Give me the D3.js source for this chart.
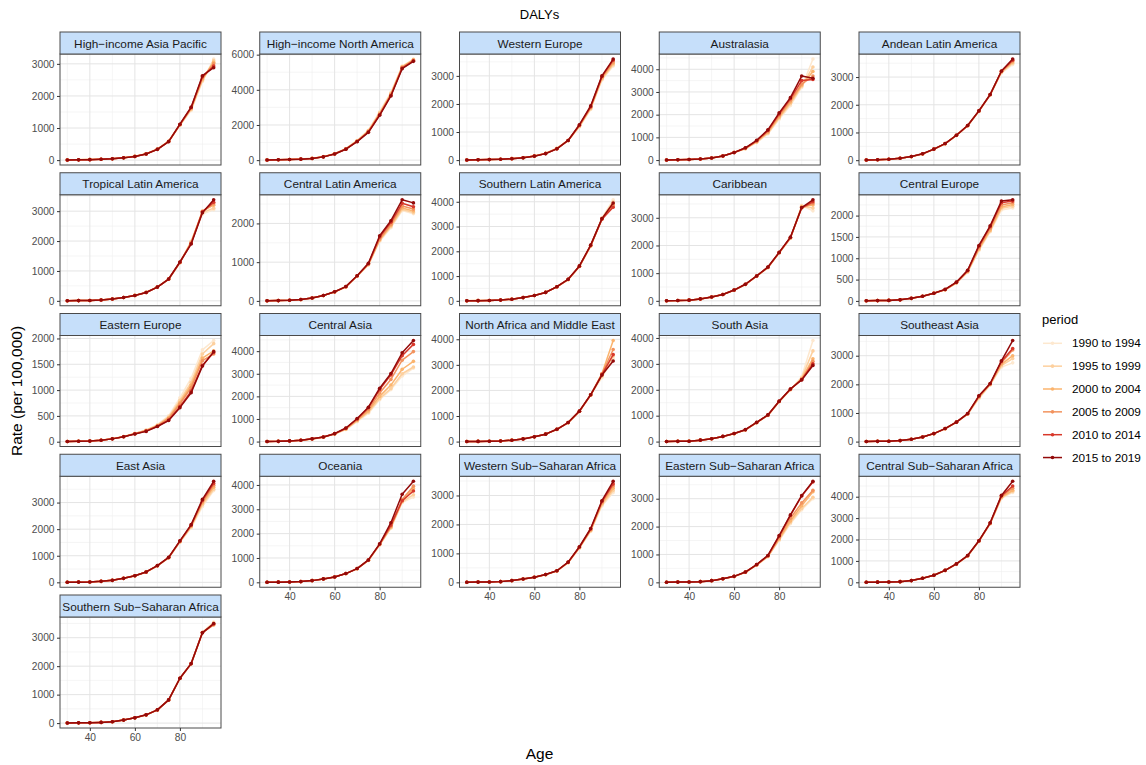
<!DOCTYPE html>
<html><head><meta charset="utf-8">
<script src="https://cdn.jsdelivr.net/npm/d3@7"></script>
<style>body{margin:0;background:#fff} text{font-family:"Liberation Sans",Arial,Helvetica,sans-serif}</style>
</head><body><svg id="c" width="1146" height="765"></svg>
<script>
const ages = [30,35,40,45,50,55,60,65,70,75,80,85,90,95];
const periods = ["1990 to 1994","1995 to 1999","2000 to 2004","2005 to 2009","2010 to 2014","2015 to 2019"];
const periodColors = ["#fde8cf","#fdd09e","#fbb46e","#f2935e","#d8382a","#930a0a"];
const regionNames = ["High−income Asia Pacific","High−income North America","Western Europe","Australasia","Andean Latin America",
  "Tropical Latin America","Central Latin America","Southern Latin America","Caribbean","Central Europe",
  "Eastern Europe","Central Asia","North Africa and Middle East","South Asia","Southeast Asia",
  "East Asia","Oceania","Western Sub−Saharan Africa","Eastern Sub−Saharan Africa","Central Sub−Saharan Africa",
  "Southern Sub−Saharan Africa"];

// each region: one row per period (1990-1994 ... 2015-2019), one value per age group
const hiAsiaPacific = [
  [6,10,17,27,45,75,120,200,345,590,1080,1550,2450,3150],
  [6,10,17,27,44,74,118,198,342,588,1090,1580,2480,3100],
  [5,9,16,26,43,73,117,196,340,585,1100,1600,2520,3050],
  [5,9,16,26,42,72,116,194,338,580,1105,1620,2560,3000],
  [5,8,15,25,41,71,115,192,336,578,1110,1640,2600,2930],
  [5,8,15,25,40,70,115,190,335,575,1120,1650,2630,2880]];
const hiNorthAmerica = [
  [12,22,40,65,105,200,370,660,1120,1700,2750,3850,5350,5750],
  [12,22,39,63,102,197,365,650,1105,1680,2700,3800,5320,5720],
  [11,21,38,61,98,194,360,640,1090,1650,2650,3750,5300,5700],
  [11,21,37,59,95,190,355,632,1075,1620,2610,3720,5270,5680],
  [10,20,36,57,92,186,352,625,1062,1600,2580,3680,5240,5650],
  [10,20,35,55,90,185,350,620,1050,1580,2550,3650,5200,5620]];
const westernEurope = [
  [6,11,20,33,55,88,150,245,420,700,1180,1800,2850,3350],
  [6,11,20,32,54,86,148,242,416,700,1200,1830,2880,3400],
  [6,10,19,31,53,84,146,238,412,700,1215,1860,2920,3450],
  [5,10,19,31,52,83,144,235,408,700,1230,1880,2950,3500],
  [5,10,18,30,51,81,142,232,404,700,1245,1900,2980,3560],
  [5,10,18,30,50,80,140,230,400,700,1260,1930,3000,3600]];
const australasia = [
  [6,13,26,47,92,185,340,490,770,1150,1800,2400,3200,4450],
  [6,13,26,47,92,184,338,500,790,1180,1850,2480,3250,4100],
  [6,12,25,46,91,183,336,510,810,1220,1900,2550,3300,3900],
  [5,12,25,46,91,182,334,520,830,1260,1960,2620,3350,3700],
  [5,12,25,45,90,181,332,530,850,1300,2030,2700,3500,3550],
  [5,12,25,45,90,180,330,540,870,1330,2080,2750,3700,3600]];
const andeanLatinAmerica = [
  [8,15,34,68,126,225,392,590,890,1240,1760,2350,3150,3450],
  [8,15,34,68,127,226,394,592,892,1242,1765,2355,3170,3500],
  [8,15,35,69,128,227,396,595,895,1245,1770,2360,3190,3540],
  [8,15,35,69,129,228,398,597,897,1247,1775,2365,3200,3580],
  [8,15,35,70,130,229,399,599,899,1249,1778,2368,3210,3610],
  [8,15,35,70,130,230,400,600,900,1250,1780,2370,3220,3650]];
const tropicalLatinAmerica = [
  [5,9,13,32,63,113,184,284,464,722,1270,2000,2900,3050],
  [5,8,13,31,62,112,183,283,463,724,1275,1980,2950,3100],
  [5,8,13,31,62,112,182,282,462,726,1280,1960,3000,3200],
  [5,8,12,30,61,111,181,281,461,728,1285,1940,2990,3250],
  [5,8,12,30,60,110,180,280,460,730,1290,1920,2980,3300],
  [5,8,12,30,60,110,180,280,460,730,1300,1900,2950,3380]];
const centralLatinAmerica = [
  [5,8,15,34,73,136,230,360,638,930,1540,1890,2330,2250],
  [5,8,15,34,73,137,231,362,640,935,1560,1920,2360,2280],
  [5,8,15,34,74,138,232,364,642,940,1580,1950,2400,2320],
  [5,8,15,35,74,139,233,366,645,950,1600,1980,2450,2370],
  [5,8,15,35,75,140,234,368,648,960,1650,2030,2520,2430],
  [5,8,15,35,75,140,235,370,650,970,1680,2070,2610,2530]];
const southernLatinAmerica = [
  [6,9,16,32,67,132,218,344,562,850,1380,2200,3350,4080],
  [5,9,16,32,67,132,217,343,564,855,1385,2210,3330,4000],
  [5,9,16,31,66,131,216,342,566,860,1390,2220,3300,3900],
  [5,8,15,31,66,131,216,341,568,865,1395,2230,3290,3850],
  [5,8,15,30,65,130,215,340,570,870,1400,2240,3300,3780],
  [5,8,15,30,65,130,215,340,570,870,1410,2250,3320,3950]];
const caribbean = [
  [6,11,26,68,136,226,382,588,888,1195,1725,2250,3440,3250],
  [5,10,25,69,137,227,384,590,890,1200,1730,2260,3420,3350],
  [5,10,25,69,138,228,386,592,892,1205,1735,2270,3400,3460],
  [5,10,25,70,139,229,388,595,895,1210,1740,2280,3350,3520],
  [5,10,25,70,140,230,390,598,898,1215,1745,2290,3360,3580],
  [5,10,25,70,140,230,390,600,900,1220,1750,2300,3370,3650]];
const centralEurope = [
  [5,8,13,26,61,111,183,258,415,670,1180,1620,2130,2180],
  [5,8,12,26,61,111,182,260,420,680,1200,1640,2170,2220],
  [5,8,12,25,60,110,181,262,425,690,1220,1660,2200,2260],
  [5,8,12,25,60,110,180,265,430,700,1250,1700,2250,2300],
  [5,8,12,25,60,110,180,268,435,710,1280,1740,2300,2340],
  [5,8,12,25,60,110,180,270,440,720,1300,1760,2340,2370]];
const easternEurope = [
  [5,9,14,29,59,102,162,228,330,500,850,1230,1780,1960],
  [5,9,14,29,58,100,160,222,320,480,800,1150,1700,1900],
  [5,8,13,28,57,98,158,218,310,460,760,1100,1620,1760],
  [5,8,13,28,56,97,155,212,305,450,730,1050,1570,1700],
  [5,8,12,27,55,96,152,205,300,420,680,980,1480,1730],
  [5,8,12,27,55,95,150,200,295,410,660,950,1465,1745]];
const centralAsia = [
  [5,10,28,57,112,192,330,530,880,1250,1850,2300,2900,3250],
  [5,10,29,58,114,194,335,545,910,1300,1900,2350,3000,3300],
  [5,10,29,59,116,196,340,560,940,1350,2000,2500,3200,3550],
  [5,10,30,60,118,198,345,575,970,1420,2150,2750,3600,3980],
  [5,10,30,60,120,200,350,590,1000,1500,2300,2950,3800,4300],
  [5,10,30,60,120,200,350,600,1020,1520,2360,3010,3930,4470]];
const northAfricaMiddleEast = [
  [5,8,13,26,56,106,186,290,472,735,1170,1810,2500,3250],
  [5,8,13,26,56,106,186,290,474,738,1175,1815,2550,3350],
  [5,8,13,26,56,106,186,290,476,740,1180,1820,2650,3950],
  [5,8,12,25,55,105,185,290,478,742,1185,1825,2650,3600],
  [5,8,12,25,55,105,185,290,480,745,1190,1830,2620,3400],
  [5,8,12,25,55,105,185,290,480,745,1190,1830,2600,3150]];
const southAsia = [
  [5,10,16,56,112,198,302,448,728,1005,1535,1990,2500,3900],
  [5,10,16,56,111,198,304,450,730,1010,1540,2000,2450,3500],
  [5,10,16,56,111,199,306,452,732,1015,1545,2010,2420,3200],
  [5,10,15,55,110,199,308,455,735,1020,1550,2020,2400,3100],
  [5,10,15,55,110,200,310,458,738,1025,1555,2025,2390,3000],
  [5,10,15,55,110,200,310,460,740,1030,1560,2030,2380,2940]];
const southeastAsia = [
  [5,8,13,36,81,161,276,447,672,955,1500,1980,2600,2750],
  [5,8,13,36,81,161,277,449,674,960,1530,1990,2650,2900],
  [5,8,12,35,80,160,278,451,676,965,1550,2000,2700,3000],
  [5,8,12,35,80,160,279,453,678,970,1570,2010,2750,3200],
  [5,8,12,35,80,160,280,455,680,975,1590,2020,2800,3250],
  [5,8,12,35,80,160,280,455,680,980,1600,2030,2820,3530]];
const eastAsia = [
  [5,9,13,39,77,151,247,382,618,915,1510,2050,2850,3450],
  [5,8,13,39,76,151,248,384,620,920,1520,2080,2920,3500],
  [5,8,13,38,76,150,249,386,622,925,1530,2110,2980,3580],
  [5,8,12,38,75,150,250,388,625,930,1540,2130,3030,3650],
  [5,8,12,38,75,150,250,390,628,935,1550,2150,3080,3720],
  [5,8,12,38,75,150,250,390,630,940,1560,2170,3120,3800]];
const oceania = [
  [5,8,16,31,72,142,222,357,557,895,1530,2220,3280,3500],
  [5,8,16,31,71,141,222,358,559,900,1540,2240,3300,3600],
  [5,8,15,31,71,141,221,359,561,905,1550,2270,3330,3850],
  [5,8,15,30,70,140,221,360,563,910,1560,2300,3400,3950],
  [5,8,15,30,70,140,220,360,565,915,1570,2350,3350,3750],
  [5,8,15,30,70,140,220,360,565,920,1580,2450,3620,4150]];
const westernSSA = [
  [5,8,13,26,61,113,173,262,392,675,1180,1760,2640,3100],
  [5,8,13,26,61,114,174,264,394,680,1190,1780,2680,3170],
  [5,8,12,25,60,114,174,266,396,685,1200,1800,2720,3250],
  [5,8,12,25,60,115,175,268,398,690,1210,1820,2760,3330],
  [5,8,12,25,60,115,175,270,400,695,1220,1840,2790,3400],
  [5,8,12,25,60,115,175,270,400,700,1230,1860,2820,3490]];
const easternSSA = [
  [5,8,13,26,61,127,209,358,615,915,1500,2100,2600,3000],
  [5,8,13,26,61,128,210,360,620,925,1530,2150,2650,3050],
  [5,8,12,25,60,128,211,362,625,935,1560,2200,2750,3250],
  [5,8,12,25,60,129,213,365,630,945,1600,2300,2850,3300],
  [5,8,12,25,60,130,215,368,635,955,1660,2400,3100,3600],
  [5,8,12,25,60,130,215,370,640,965,1675,2420,3110,3625]];
const centralSSA = [
  [5,8,16,31,82,188,326,552,848,1225,1915,2730,3920,4200],
  [5,8,16,31,81,188,327,554,850,1230,1920,2740,3950,4250],
  [5,8,15,31,81,189,328,556,852,1235,1925,2750,3980,4300],
  [5,8,15,30,80,189,329,558,855,1240,1930,2760,4010,4400],
  [5,8,15,30,80,190,330,560,858,1245,1935,2770,4040,4500],
  [5,8,15,30,80,190,330,560,860,1250,1940,2780,4060,4720]];
const southernSSA = [
  [5,8,13,26,46,106,183,286,461,807,1565,2080,3190,3550],
  [5,8,13,26,46,106,183,287,462,809,1567,2082,3185,3520],
  [5,8,12,25,46,105,184,288,463,811,1570,2085,3180,3450],
  [5,8,12,25,45,105,184,289,464,813,1572,2088,3175,3460],
  [5,8,12,25,45,105,185,290,465,815,1575,2090,3180,3480],
  [5,8,12,25,45,105,185,290,465,815,1575,2090,3170,3500]];

const regionValues = [hiAsiaPacific,hiNorthAmerica,westernEurope,australasia,andeanLatinAmerica,
  tropicalLatinAmerica,centralLatinAmerica,southernLatinAmerica,caribbean,centralEurope,
  easternEurope,centralAsia,northAfricaMiddleEast,southAsia,southeastAsia,
  eastAsia,oceania,westernSSA,easternSSA,centralSSA,southernSSA];

const yTicks = [
  [0,1000,2000,3000],[0,2000,4000,6000],[0,1000,2000,3000],[0,1000,2000,3000,4000],[0,1000,2000,3000],
  [0,1000,2000,3000],[0,1000,2000],[0,1000,2000,3000,4000],[0,1000,2000,3000],[0,500,1000,1500,2000],
  [0,500,1000,1500,2000],[0,1000,2000,3000,4000],[0,1000,2000,3000,4000],[0,1000,2000,3000,4000],[0,1000,2000,3000],
  [0,1000,2000,3000],[0,1000,2000,3000,4000],[0,1000,2000,3000],[0,1000,2000,3000],[0,1000,2000,3000,4000],
  [0,1000,2000,3000]];
const xTicks = [40,60,80];
const xMinor = [30,50,70,90];

const svg = d3.select("#c");
svg.append("rect").attr("width",1146).attr("height",765).attr("fill","#fff");

const nCol = 5, panelW = 161, stripH = 22, panelH = 111;
const colLeft = c => 60 + c*199.75;
const rowTop = r => 32 + r*140.75;
const nPanels = regionNames.length;

regionNames.forEach((name, i) => {
  const c = i % nCol, r = Math.floor(i / nCol);
  const x0 = colLeft(c), st = rowTop(r), pt = st + stripH, pb = pt + panelH;
  const data = regionValues[i];
  const all = data.flat();
  const mn = d3.min(all), mx = d3.max(all), rg = mx - mn;
  const x = d3.scaleLinear().domain([30 - 65*0.05, 95 + 65*0.05]).range([x0, x0 + panelW]);
  const y = d3.scaleLinear().domain([mn - rg*0.05, mx + rg*0.05]).range([pb, pt]);
  const g = svg.append("g");
  g.append("rect").attr("x",x0).attr("y",pt).attr("width",panelW).attr("height",panelH).attr("fill","#fff");
  const yt = yTicks[i];
  const step = yt[1]-yt[0];
  const yMinor = [];
  for (let k = 0; k <= yt.length; k++) {
    const v = yt[0] - step/2 + k*step;
    if (v > y.domain()[0] && v < y.domain()[1]) yMinor.push(v);
  }
  g.selectAll(null).data(yMinor).enter().append("line")
    .attr("x1",x0).attr("x2",x0+panelW).attr("y1",d=>y(d)).attr("y2",d=>y(d))
    .attr("stroke","#efefef").attr("stroke-width",0.6);
  g.selectAll(null).data(xMinor).enter().append("line")
    .attr("y1",pt).attr("y2",pb).attr("x1",d=>x(d)).attr("x2",d=>x(d))
    .attr("stroke","#efefef").attr("stroke-width",0.6);
  g.selectAll(null).data(yt).enter().append("line")
    .attr("x1",x0).attr("x2",x0+panelW).attr("y1",d=>y(d)).attr("y2",d=>y(d))
    .attr("stroke","#e4e4e4").attr("stroke-width",1);
  g.selectAll(null).data(xTicks).enter().append("line")
    .attr("y1",pt).attr("y2",pb).attr("x1",d=>x(d)).attr("x2",d=>x(d))
    .attr("stroke","#e4e4e4").attr("stroke-width",1);
  const line = d3.line().x((d,k)=>x(ages[k])).y(d=>y(d));
  data.forEach((series, p) => {
    g.append("path").attr("d", line(series)).attr("fill","none")
      .attr("stroke", periodColors[p]).attr("stroke-width",1.5).attr("stroke-linejoin","round");
    g.selectAll(null).data(series).enter().append("circle")
      .attr("cx",(d,k)=>x(ages[k])).attr("cy",d=>y(d)).attr("r",1.8).attr("fill",periodColors[p]);
  });
  g.append("rect").attr("x",x0).attr("y",pt).attr("width",panelW).attr("height",panelH)
    .attr("fill","none").attr("stroke","#4a4a4a").attr("stroke-width",1);
  g.append("rect").attr("x",x0).attr("y",st).attr("width",panelW).attr("height",stripH)
    .attr("fill","#c6dffa").attr("stroke","#4a4a4a").attr("stroke-width",1);
  g.append("text").attr("x",x0+panelW/2).attr("y",st+15.5).attr("text-anchor","middle")
    .attr("font-size","11.8px").attr("fill","#1a1a1a").text(name);
  const ya = g.append("g").attr("transform",`translate(${x0},0)`)
    .call(d3.axisLeft(y).tickValues(yt).tickSize(3).tickPadding(2.5).tickFormat(d3.format("d")));
  ya.select(".domain").remove();
  ya.selectAll(".tick line").attr("stroke","#333");
  ya.selectAll(".tick text").attr("fill","#4d4d4d").attr("font-size","10.2px")
    .attr("font-family","Liberation Sans, Arial, sans-serif");
  if (i + nCol >= nPanels) {
    const xa = g.append("g").attr("transform",`translate(0,${pb})`)
      .call(d3.axisBottom(x).tickValues(xTicks).tickSize(3).tickPadding(2.5).tickFormat(d3.format("d")));
    xa.select(".domain").remove();
    xa.selectAll(".tick line").attr("stroke","#333");
    xa.selectAll(".tick text").attr("fill","#4d4d4d").attr("font-size","10.2px")
      .attr("font-family","Liberation Sans, Arial, sans-serif");
  }
});

svg.append("text").attr("x",539.5).attr("y",18.5).attr("text-anchor","middle")
  .attr("font-size","13px").attr("fill","#000").text("DALYs");
svg.append("text").attr("x",539.5).attr("y",758.5).attr("text-anchor","middle")
  .attr("font-size","15.5px").attr("fill","#000").text("Age");
svg.append("text").attr("transform","translate(22,391) rotate(-90)").attr("text-anchor","middle")
  .attr("font-size","15.5px").attr("fill","#000").text("Rate (per 100,000)");

const lg = svg.append("g");
lg.append("text").attr("x",1042).attr("y",323.5).attr("font-size","13px").attr("fill","#000").text("period");
periods.forEach((p, k) => {
  const cy = 343.3 + k*22.85;
  lg.append("line").attr("x1",1043).attr("x2",1062).attr("y1",cy).attr("y2",cy)
    .attr("stroke",periodColors[k]).attr("stroke-width",1.5);
  lg.append("circle").attr("cx",1052.5).attr("cy",cy).attr("r",1.8).attr("fill",periodColors[k]);
  lg.append("text").attr("x",1072).attr("y",cy).attr("dy","0.35em").attr("font-size","11.8px")
    .attr("fill","#000").text(p);
});
</script></body></html>
